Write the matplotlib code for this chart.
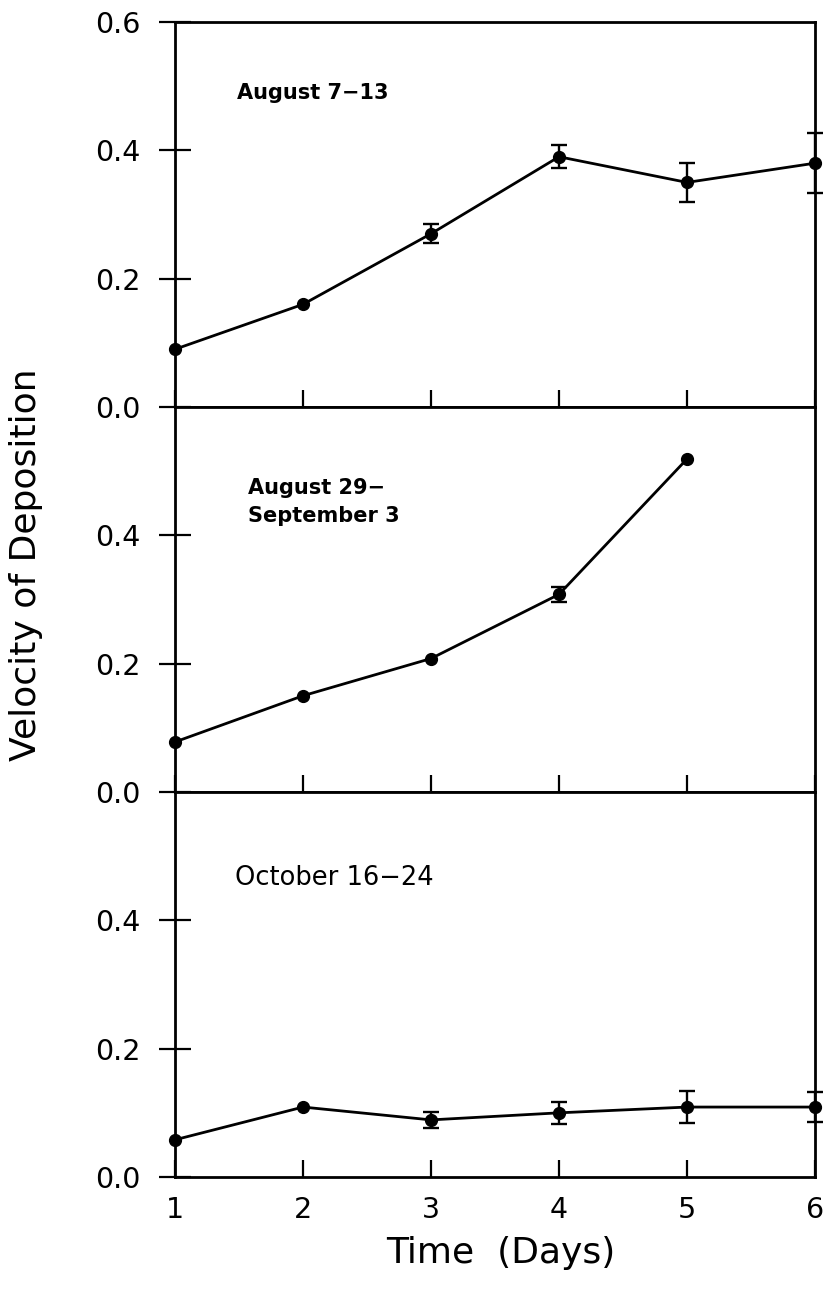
import numpy as np
import matplotlib.pyplot as plt

# data
days = [1, 2, 3, 4, 5, 6]
aug_vals = [0.09, 0.16, 0.27, 0.39, 0.35, 0.38]
aug_err = [0, 0, 0.015, 0.018, 0.03, 0.047]

sep_days = [1, 2, 3, 4, 5]
sep_vals = [0.078, 0.15, 0.208, 0.308, 0.519]
sep_err = [0, 0, 0, 0.012, 0]

oct_vals = [0.058, 0.109, 0.089, 0.10, 0.109, 0.109]
oct_err = [0, 0, 0.013, 0.017, 0.025, 0.024]

labels = ["August 7\u221213", "August 29\u2212\nSeptember 3", "October 16\u221224"]
day_ticks = [1, 2, 3, 4, 5, 6]

fig = plt.figure(figsize=(8.24, 12.94), dpi=100)
W, H = 824., 1294.
left = 175 / W
width = 640 / W
ph = 385 / H
bottom0 = 1 - 1177 / H

axes = []
for k in range(3):
    b = bottom0 + (2 - k) * ph
    axes.append(fig.add_axes([left, b, width, ph]))

series = [(days, aug_vals, aug_err), (sep_days, sep_vals, sep_err), (days, oct_vals, oct_err)]

for k, ax in enumerate(axes):
    x, y, e = series[k]
    x = np.array(x); y = np.array(y); e = np.array(e)
    ax.plot(x, y, color='black', lw=2.0, marker='o', ms=8.5, clip_on=False, zorder=3)
    # only points that have a visible spread get an error bar
    m = e > 0
    ax.errorbar(x[m], y[m], yerr=e[m], fmt='none', ecolor='black',
                elinewidth=1.7, capsize=5.5, capthick=1.7, clip_on=False, zorder=3)
    ax.set_xlim(1, 6)
    ax.set_ylim(0, 0.6)
    for s in ax.spines.values():
        s.set_linewidth(2.0)
    ax.set_xticks(day_ticks)
    ax.tick_params(axis='x', direction='in', length=12, width=1.6,
                   labelsize=20.5, pad=14)
    ax.tick_params(axis='y', direction='inout', length=23, width=1.6,
                   labelsize=20.5, pad=13)
    if k == 0:
        ax.set_yticks([0, 0.2, 0.4, 0.6])
    else:
        ax.set_yticks([0, 0.2, 0.4])
    ax.set_yticklabels(["%.1f" % v for v in ax.get_yticks()])
    if k < 2:
        ax.tick_params(axis='x', labelbottom=False)

# panel annotations
axes[0].text(1.484, 0.49, labels[0], fontsize=15, fontweight='bold', ha='left', va='center')
axes[1].text(1.57, 0.452, labels[1], fontsize=15, fontweight='bold', ha='left', va='center',
             linespacing=1.45)
axes[2].text(1.47, 0.466, labels[2], fontsize=18.5, ha='left', va='center')

fig.text(26 / W, 1 - 565 / H, "Velocity of Deposition", rotation=90,
         fontsize=26, ha='center', va='center')
fig.text(501 / W, 1 - 1253 / H, "Time  (Days)", fontsize=26, ha='center', va='center')

fig.savefig("out.png", dpi=100)
